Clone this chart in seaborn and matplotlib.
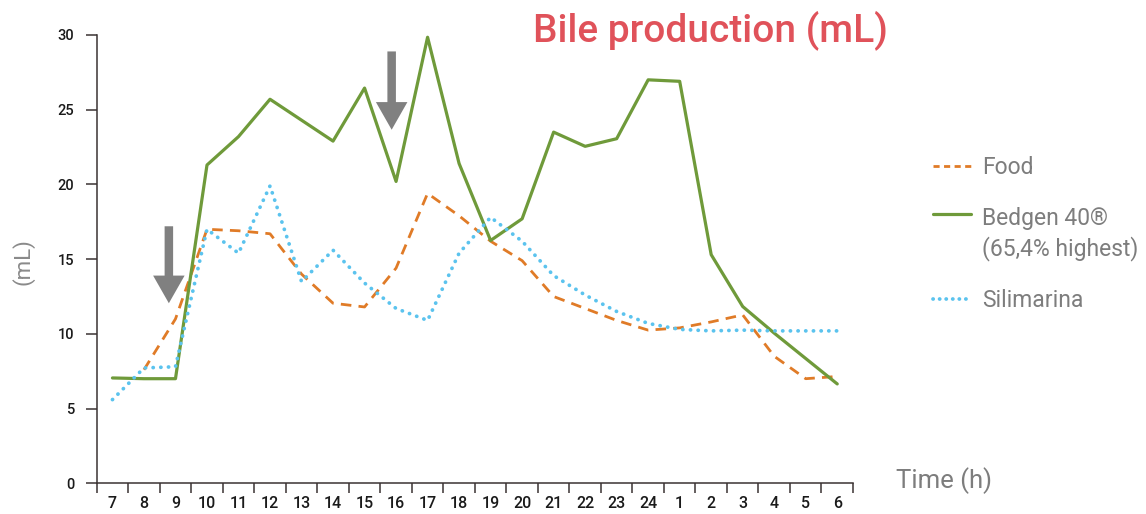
import numpy as np
import pandas as pd
import matplotlib
matplotlib.use("Agg")
import matplotlib.pyplot as plt
import seaborn as sns
from matplotlib.patches import FancyArrow
from matplotlib.lines import Line2D
from matplotlib.legend_handler import HandlerLine2D

# ---------------- data ----------------
hours = ["7", "8", "9", "10", "11", "12", "13", "14", "15", "16", "17", "18",
         "19", "20", "21", "22", "23", "24", "1", "2", "3", "4", "5", "6"]
food = [np.nan, 7.6, 11.0, 17.0, 16.9, 16.7, 14.0, 12.05, 11.8, 14.4, 19.4, 17.9,
        16.2, 14.9, 12.5, 11.7, 10.9, 10.25, 10.4, 10.8, 11.27, 8.5, 7.0, 7.15]
bedgen = [7.05, 7.0, 7.0, 21.3, 23.2, 25.7, 24.3, 22.9, 26.45, 20.2, 29.85, 21.4,
          16.25, 17.7, 23.5, 22.55, 23.06, 27.0, 26.9, 15.3, 11.83, 10.05, 8.35, 6.65]
silimarina = [5.6, 7.72, 7.8, 17.0, 15.4, 19.9, 13.5, 15.6, 13.4, 11.7, 10.9, 15.4,
              17.8, 16.2, 13.9, 12.6, 11.5, 10.7, 10.3, 10.2, 10.25, 10.2, 10.2, 10.2]
series_names = ["Food", "Bedgen 40®\n(65,4% highest)", "Silimarina"]
y_ticks = [0, 5, 10, 15, 20, 25, 30]
# dosing arrows (x position in category units, top, tip)
arrow_x = [1.79, 8.86]
arrow_top = [17.2, 28.9]
arrow_tip = [12.05, 23.66]

# ---------------- style ----------------
sns.set_theme(style="white")
plt.rcParams["font.family"] = ["Roboto", "DejaVu Sans"]

spine_c = "#3b3333"
c_food = "#e07b27"
c_bed = "#6f9a3a"
c_sil = "#5bc3ee"
c_text = "#7d7d7d"

fig = plt.figure(figsize=(11.46, 5.14), dpi=100)
ax = fig.add_axes([96.7 / 1146, 1 - 483.3 / 514, (853 - 96.7) / 1146, (483.3 - 35) / 514])

x = np.arange(len(hours))
df = pd.DataFrame({"x": x, "food": food, "bedgen": bedgen, "silimarina": silimarina})

sns.lineplot(data=df, x="x", y="food", ax=ax, color=c_food, lw=2.0,
             linestyle=(0, (3.8, 2.6)), dash_capstyle="butt", errorbar=None)
sns.lineplot(data=df, x="x", y="bedgen", ax=ax, color=c_bed, lw=2.3,
             linestyle="-", errorbar=None)
sns.lineplot(data=df, x="x", y="silimarina", ax=ax, color=c_sil, lw=2.7,
             linestyle=(0, (0.05, 2.0)), dash_capstyle="round", errorbar=None)

# arrows
for xa, yt, yp in zip(arrow_x, arrow_top, arrow_tip):
    ax.add_patch(FancyArrow(xa, yt, 0, yp - yt, width=0.27, head_width=1.0,
                            head_length=1.85, length_includes_head=True,
                            color="#808080", lw=0, zorder=5))

ax.set_xlim(-0.5, len(hours) - 0.5)
ax.set_ylim(0, 30)
ax.set_yticks(y_ticks)
ax.set_xticks(x)
ax.set_xticklabels(hours, fontweight="medium")
ax.set_yticklabels([str(v) for v in y_ticks], fontweight="medium")
ax.set_xticks(np.arange(-0.5, len(hours), 1), minor=True)
ax.tick_params(axis="x", which="major", length=0, pad=9, labelsize=11.5, labelcolor="#1a1a1a")
ax.tick_params(axis="x", which="minor", length=7.5, width=1.1, color=spine_c, direction="out", bottom=True)
ax.tick_params(axis="y", which="major", length=8, width=1.1, color=spine_c, direction="out",
               pad=8, labelsize=10.5, labelcolor="#1a1a1a", left=True)

for s in ["top", "right"]:
    ax.spines[s].set_visible(False)
for s in ["left", "bottom"]:
    ax.spines[s].set_color(spine_c)
    ax.spines[s].set_linewidth(1.1)

ax.set_ylabel("(mL)", fontsize=16, color="#8a8a8a")
ax.yaxis.set_label_coords(-0.0816, 0.494)
ax.set_xlabel("Time (h)", fontsize=18.5, color=c_text)
ax.xaxis.set_label_coords(1.1208, 0.005)
ax.xaxis.label.set_verticalalignment("center")

fig.text(0.6196, 0.942, "Bile production (mL)", ha="center", va="center",
         fontsize=28, color="#e0525a", fontweight="medium")


class FirstLineHandler(HandlerLine2D):
    """Line handle aligned with the first line of a two-line label."""
    def __init__(self, shift, **kw):
        super().__init__(**kw)
        self.shift = shift

    def create_artists(self, legend, orig_handle, xdescent, ydescent, width,
                       height, fontsize, trans):
        arts = super().create_artists(legend, orig_handle, xdescent, ydescent,
                                      width, height, fontsize, trans)
        for a in arts:
            a.set_ydata(np.asarray(a.get_ydata(), dtype=float) + self.shift)
        return arts


handles = [Line2D([], [], color=c_food, lw=2.0, linestyle=(0, (2.2, 1.6))),
           Line2D([], [], color=c_bed, lw=2.3),
           Line2D([], [], color=c_sil, lw=2.7, linestyle=(0, (0.05, 1.7)), dash_capstyle="round")]
leg = ax.legend(handles, series_names, loc="upper left",
                bbox_to_anchor=(933 / 1146, 1 - 156 / 514), bbox_transform=fig.transFigure,
                frameon=False, fontsize=16.5, labelcolor=c_text, handlelength=1.65,
                handletextpad=0.5, labelspacing=1.22, borderpad=0, borderaxespad=0,
                handler_map={handles[1]: FirstLineHandler(shift=15)})
leg.get_texts()[1].set_linespacing(1.3)

fig.savefig("out.png", dpi=100)
